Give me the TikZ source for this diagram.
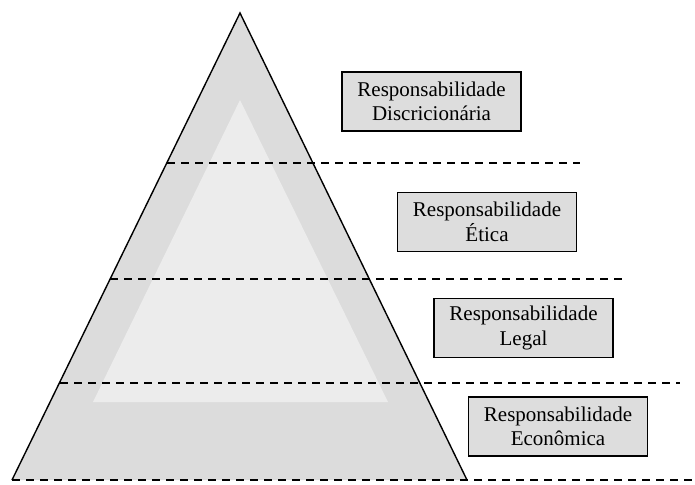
\documentclass[tikz,border=0pt]{standalone}
\usepackage{fontspec}
\setmainfont{Liberation Serif}
\begin{document}
\begin{tikzpicture}[x=1pt,y=-1pt,
  level/.style={draw=black,line width=1.4pt,fill=boxgray,minimum width=179pt,
    minimum height=59pt,align=center,inner sep=0pt,
    font=\fontsize{21}{24.5}\selectfont},
  divider/.style={line width=1.2pt,dash pattern=on 8pt off 6pt},
  outline/.style={line width=1.4pt,line join=miter}]
\definecolor{boxgray}{HTML}{DDDDDD}
\definecolor{outergray}{HTML}{DCDCDC}
\definecolor{innergray}{HTML}{ECECEC}
\useasboundingbox (0,0) rectangle (695,484);

% pyramid corners
\coordinate (apex) at (240,13);
\coordinate (bl) at (12,480);
\coordinate (br) at (467,480);

% shaded pyramid with lighter core
\fill[outergray] (apex) -- (bl) -- (br) -- cycle;
\fill[innergray] (240,100) -- (93,402) -- (388,402) -- cycle;

% level dividers
\coordinate (d1a) at (167,163); \coordinate (d1b) at (580,163);
\coordinate (d2a) at (110,279); \coordinate (d2b) at (622,279);
\coordinate (d3a) at (60,383);  \coordinate (d3b) at (680,383);
\coordinate (d4a) at (12,480);  \coordinate (d4b) at (695,480);
\draw[divider] (d1a) -- (d1b);
\draw[divider] (d2a) -- (d2b);
\draw[divider] (d3a) -- (d3b);
\draw[divider] (d4a) -- (d4b);

% pyramid sides
\draw[outline] (bl) -- (apex) -- (br);

% level labels
\node[level] (disc) at (431.5,101.5) {Responsabilidade\\Discricionária};
\node[level] (etica) at (487,222) {Responsabilidade\\Ética};
\node[level] (legal) at (523.5,328) {Responsabilidade\\Legal};
\node[level] (econ) at (558,426.5) {Responsabilidade\\Econômica};
\end{tikzpicture}
\end{document}
